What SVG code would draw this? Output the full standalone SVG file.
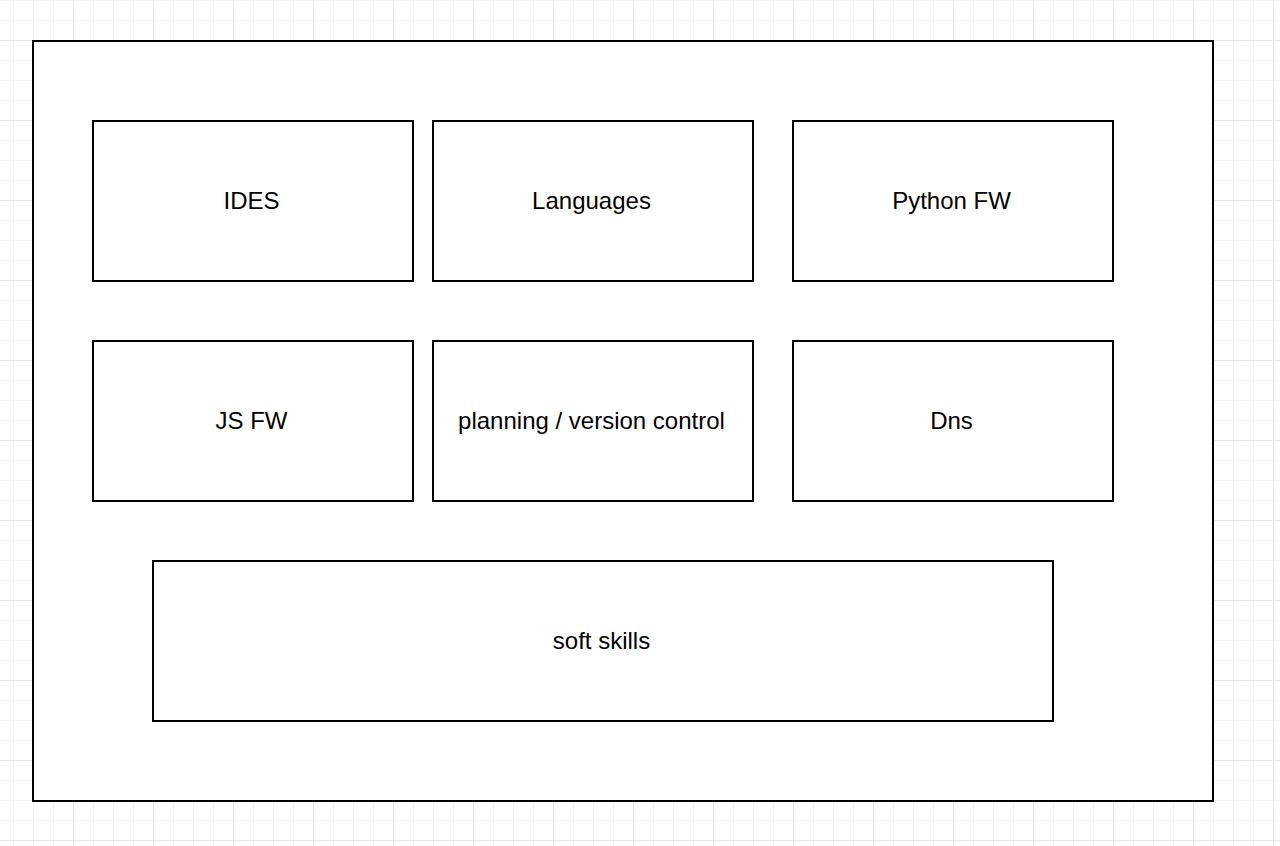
<svg xmlns="http://www.w3.org/2000/svg" width="1280" height="846" viewBox="0 0 1280 846">
<defs>
<pattern id="minor" x="13" y="0" width="20" height="20" patternUnits="userSpaceOnUse">
<path d="M0.5 0V20M0 0.5H20" stroke="#f3f3f3" stroke-width="1" fill="none"/>
</pattern>
<pattern id="major" x="73" y="40" width="80" height="80" patternUnits="userSpaceOnUse">
<path d="M0.5 0V80M0 0.5H80" stroke="#e6e6e6" stroke-width="1" fill="none"/>
</pattern>
<style>
.box{fill:#ffffff;stroke:#000000;stroke-width:2}
.lbl{font-family:"Liberation Sans",Arial,sans-serif;font-size:24px;fill:#000000;text-anchor:middle}
</style>
</defs>
<rect width="1280" height="846" fill="#ffffff"/>
<rect width="1280" height="846" fill="url(#minor)"/>
<rect width="1280" height="846" fill="url(#major)"/>
<g id="container"><rect class="box" x="33" y="41" width="1180" height="760"/></g>
<g id="ides"><rect class="box" x="93" y="121" width="320" height="160"/><text class="lbl" x="251.5" y="209">IDES</text></g>
<g id="languages"><rect class="box" x="433" y="121" width="320" height="160"/><text class="lbl" x="591.5" y="209">Languages</text></g>
<g id="pythonfw"><rect class="box" x="793" y="121" width="320" height="160"/><text class="lbl" x="951.5" y="209">Python FW</text></g>
<g id="jsfw"><rect class="box" x="93" y="341" width="320" height="160"/><text class="lbl" x="251.5" y="429">JS FW</text></g>
<g id="planning"><rect class="box" x="433" y="341" width="320" height="160"/><text class="lbl" x="591.5" y="429">planning / version control</text></g>
<g id="dns"><rect class="box" x="793" y="341" width="320" height="160"/><text class="lbl" x="951.5" y="429">Dns</text></g>
<g id="softskills"><rect class="box" x="153" y="561" width="900" height="160"/><text class="lbl" x="601.5" y="649">soft skills</text></g>
<g id="connectors"></g>
</svg>
